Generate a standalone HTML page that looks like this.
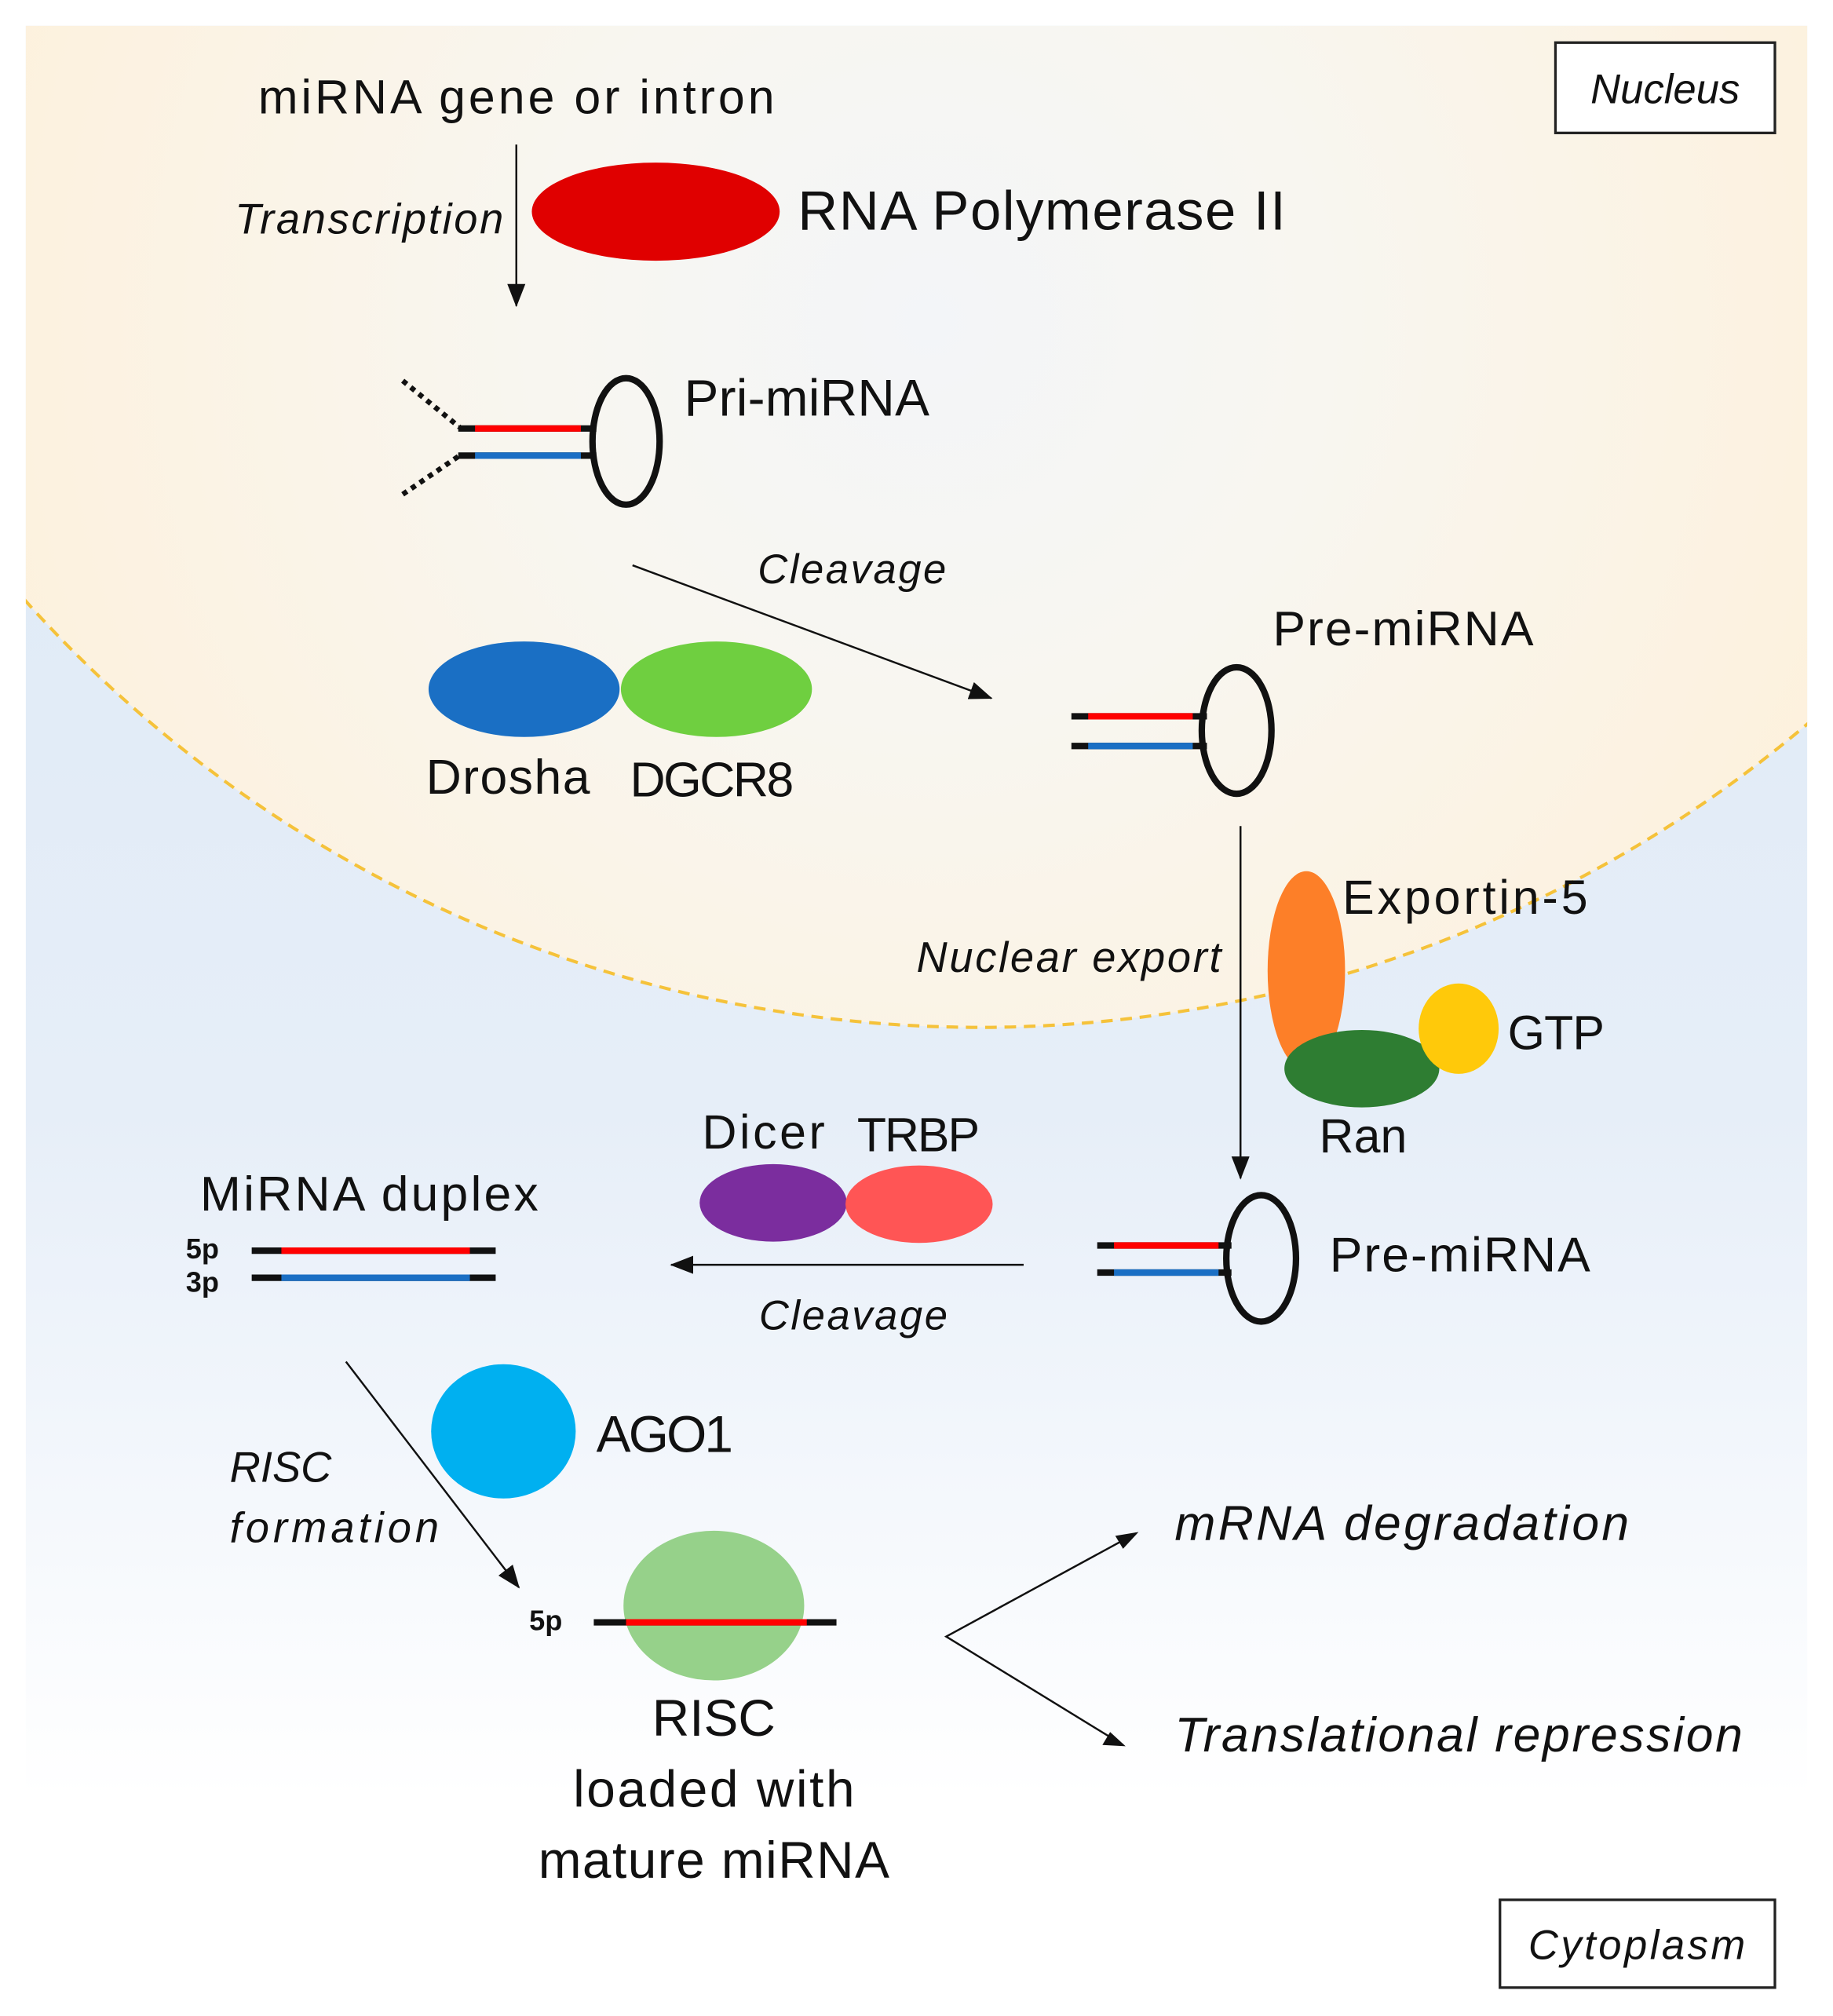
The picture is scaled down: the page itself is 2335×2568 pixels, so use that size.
<!DOCTYPE html>
<html><head><meta charset="utf-8"><style>
html,body{margin:0;padding:0;background:#fff;}
svg{display:block;}
text{font-family:"Liberation Sans",sans-serif;fill:#111;}
.i{font-style:italic;}
</style></head><body>
<svg width="2335" height="2568" viewBox="0 0 1420 1562" preserveAspectRatio="none" xmlns="http://www.w3.org/2000/svg">
<defs>
<linearGradient id="bg" x1="0" y1="0" x2="0" y2="1">
<stop offset="0" stop-color="#dbe8f5"/><stop offset="0.55" stop-color="#e6eef8"/><stop offset="0.9" stop-color="#ffffff"/><stop offset="1" stop-color="#ffffff"/>
</linearGradient>
<radialGradient id="nuc" cx="720" cy="250" r="760" gradientUnits="userSpaceOnUse">
<stop offset="0" stop-color="#f3f5f8"/><stop offset="0.4" stop-color="#f8f6f0"/><stop offset="1" stop-color="#fdf1dd"/>
</radialGradient>
<clipPath id="pc"><rect x="20" y="20" width="1380" height="1525"/></clipPath>
<marker id="ah" markerWidth="10" markerHeight="10" refX="9" refY="5" orient="auto" markerUnits="userSpaceOnUse"><path d="M0,0 L10,5 L0,10 Z" fill="#111"/></marker>
<marker id="ah2" markerWidth="18" markerHeight="14" refX="17" refY="7" orient="auto" markerUnits="userSpaceOnUse"><path d="M0,0 L18,7 L0,14 Z" fill="#111"/></marker>
</defs>
<rect x="20" y="20" width="1380" height="1525" fill="url(#bg)"/>
<g clip-path="url(#pc)">
<circle cx="759" cy="-196" r="992" fill="url(#nuc)" stroke="#f5c23a" stroke-width="2.5" stroke-dasharray="9,6"/>
</g>

<!-- Nucleus box -->
<rect x="1205" y="33" width="170" height="70" fill="#fff" stroke="#222" stroke-width="2"/>
<text x="1290" y="80" text-anchor="middle" class="i" font-size="32">Nucleus</text>

<text x="200" y="88" font-size="37" textLength="400">miRNA gene or intron</text>
<line x1="400" y1="112" x2="400" y2="237" stroke="#111" stroke-width="1.5" marker-end="url(#ah2)"/>
<text x="390" y="181" text-anchor="end" class="i" font-size="33" textLength="208">Transcription</text>
<ellipse cx="508" cy="164" rx="96" ry="38" fill="#e00000"/>
<text x="618" y="178" font-size="43" textLength="378">RNA Polymerase II</text>

<!-- Pri-miRNA -->
<line x1="312" y1="295" x2="356" y2="331" stroke="#111" stroke-width="4" stroke-dasharray="4,4"/>
<line x1="312" y1="383" x2="356" y2="353" stroke="#111" stroke-width="4" stroke-dasharray="4,4"/>
<ellipse cx="485" cy="342" rx="26" ry="49" fill="none" stroke="#111" stroke-width="5"/>
<line x1="355" y1="332" x2="462" y2="332" stroke="#111" stroke-width="5"/>
<line x1="368" y1="332" x2="450" y2="332" stroke="#ff0000" stroke-width="5"/>
<line x1="355" y1="353" x2="462" y2="353" stroke="#111" stroke-width="5"/>
<line x1="368" y1="353" x2="450" y2="353" stroke="#1a6fc4" stroke-width="5"/>
<text x="530" y="322" font-size="40" textLength="190">Pri-miRNA</text>

<line x1="490" y1="438" x2="768" y2="541" stroke="#111" stroke-width="1.5" marker-end="url(#ah2)"/>
<text x="587" y="452" class="i" font-size="32" textLength="146">Cleavage</text>
<ellipse cx="406" cy="534" rx="74" ry="37" fill="#1a6fc4"/>
<ellipse cx="555" cy="534" rx="74" ry="37" fill="#6fcf40"/>
<text x="330" y="615" font-size="38" textLength="127">Drosha</text>
<text x="488" y="617" font-size="38" textLength="127">DGCR8</text>

<!-- Pre-miRNA 1 -->
<ellipse cx="958" cy="566" rx="27" ry="49" fill="none" stroke="#111" stroke-width="5"/>
<line x1="830" y1="555" x2="935" y2="555" stroke="#111" stroke-width="5"/>
<line x1="843" y1="555" x2="924" y2="555" stroke="#ff0000" stroke-width="5"/>
<line x1="830" y1="578" x2="935" y2="578" stroke="#111" stroke-width="5"/>
<line x1="843" y1="578" x2="924" y2="578" stroke="#1a6fc4" stroke-width="5"/>
<text x="986" y="500" font-size="38" textLength="202">Pre-miRNA</text>

<line x1="961" y1="640" x2="961" y2="913" stroke="#111" stroke-width="1.5" marker-end="url(#ah2)"/>
<text x="946" y="753" text-anchor="end" class="i" font-size="33" textLength="236">Nuclear export</text>
<ellipse cx="1012" cy="752" rx="30" ry="77" fill="#fd7f28"/>
<ellipse cx="1055" cy="828" rx="60" ry="30" fill="#2e7d32"/>
<ellipse cx="1130" cy="797" rx="31" ry="35" fill="#ffc90a"/>
<text x="1040" y="708" font-size="37" textLength="190">Exportin-5</text>
<text x="1168" y="813" font-size="37" textLength="75">GTP</text>
<text x="1022" y="893" font-size="37" textLength="68">Ran</text>

<!-- Pre-miRNA 2 -->
<ellipse cx="977" cy="975" rx="27" ry="49" fill="none" stroke="#111" stroke-width="5"/>
<line x1="850" y1="965" x2="954" y2="965" stroke="#111" stroke-width="5"/>
<line x1="863" y1="965" x2="944" y2="965" stroke="#ff0000" stroke-width="5"/>
<line x1="850" y1="986" x2="954" y2="986" stroke="#111" stroke-width="5"/>
<line x1="863" y1="986" x2="944" y2="986" stroke="#1a6fc4" stroke-width="5"/>
<text x="1030" y="985" font-size="38" textLength="202">Pre-miRNA</text>

<line x1="793" y1="980" x2="520" y2="980" stroke="#111" stroke-width="1.5" marker-end="url(#ah2)"/>
<text x="588" y="1030" class="i" font-size="32" textLength="146">Cleavage</text>
<ellipse cx="599" cy="932" rx="57" ry="30" fill="#7b2d9e"/>
<ellipse cx="712" cy="933" rx="57" ry="30" fill="#ff5555"/>
<text x="544" y="890" font-size="37" textLength="95">Dicer</text>
<text x="664" y="892" font-size="37" textLength="95">TRBP</text>

<!-- duplex -->
<text x="155" y="938" font-size="38" textLength="262">MiRNA duplex</text>
<line x1="195" y1="969" x2="384" y2="969" stroke="#111" stroke-width="5"/>
<line x1="218" y1="969" x2="364" y2="969" stroke="#ff0000" stroke-width="5"/>
<line x1="195" y1="990" x2="384" y2="990" stroke="#111" stroke-width="5"/>
<line x1="218" y1="990" x2="364" y2="990" stroke="#1a6fc4" stroke-width="5"/>
<text x="144" y="975" font-size="22" font-weight="bold">5p</text>
<text x="144" y="1001" font-size="22" font-weight="bold">3p</text>

<line x1="268" y1="1055" x2="402" y2="1230" stroke="#111" stroke-width="1.5" marker-end="url(#ah2)"/>
<text x="178" y="1148" class="i" font-size="33">RISC</text>
<text x="178" y="1195" class="i" font-size="33" textLength="162">formation</text>
<ellipse cx="390" cy="1109" rx="56" ry="52" fill="#00b0f0"/>
<text x="462" y="1125" font-size="40" textLength="106">AGO1</text>

<ellipse cx="553" cy="1244" rx="70" ry="58" fill="#96d18a"/>
<line x1="460" y1="1257" x2="648" y2="1257" stroke="#111" stroke-width="5"/>
<line x1="485" y1="1257" x2="625" y2="1257" stroke="#ff0000" stroke-width="5"/>
<text x="410" y="1263" font-size="22" font-weight="bold">5p</text>
<text x="553" y="1345" text-anchor="middle" font-size="40">RISC</text>
<text x="553" y="1400" text-anchor="middle" font-size="40" textLength="218">loaded with</text>
<text x="553" y="1455" text-anchor="middle" font-size="40" textLength="272">mature miRNA</text>

<polyline points="880,1188 733,1268 870,1352" fill="none" stroke="#111" stroke-width="1.5"/>
<path d="M882,1187 L864,1190 L870,1200 Z" fill="#111"/>
<path d="M872,1353 L854,1352 L860,1342 Z" fill="#111"/>
<text x="910" y="1193" class="i" font-size="38" textLength="352">mRNA degradation</text>
<text x="910" y="1357" class="i" font-size="38" textLength="440">Translational repression</text>

<rect x="1162" y="1472" width="213" height="68" fill="#fff" stroke="#222" stroke-width="2"/>
<text x="1268" y="1518" text-anchor="middle" class="i" font-size="32" textLength="168">Cytoplasm</text>
</svg>
</body></html>
